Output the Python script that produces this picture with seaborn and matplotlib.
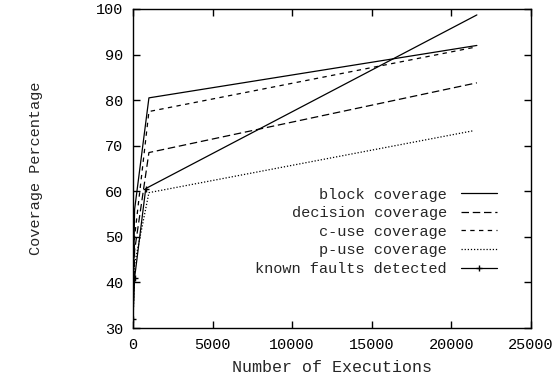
import matplotlib
matplotlib.use("Agg")
import matplotlib.pyplot as plt
import seaborn as sns
import pandas as pd

# ---- data ----
block_x = [1, 100, 1000, 21600]
block_y = [33, 56, 80.5, 92.0]
decision_x = [1, 100, 1000, 21600]
decision_y = [31, 47, 68.5, 83.8]
cuse_x = [1, 100, 1000, 21600]
cuse_y = [32, 50, 77.5, 91.7]
puse_x = [1, 100, 1000, 21400]
puse_y = [30.5, 44, 59.7, 73.3]
faults_x = [1, 100, 800, 21600]
faults_y = [32, 41, 60.6, 98.7]

labels = ["block coverage", "decision coverage", "c-use coverage",
          "p-use coverage", "known faults detected"]
xticks = [0, 5000, 10000, 15000, 20000, 25000]
yticks = [30, 40, 50, 60, 70, 80, 90, 100]

sns.set_theme(style="ticks")
plt.rcParams['font.family'] = ['Liberation Mono', 'DejaVu Sans Mono']

fig = plt.figure(figsize=(5.58, 3.77), dpi=100)
ax = fig.add_axes([133/558, 1-328/377, (531-133)/558, (328-9)/377])

series = [
    (block_x, block_y, dict(linestyle='-')),
    (decision_x, decision_y, dict(linestyle=(0, (6, 3)))),
    (cuse_x, cuse_y, dict(linestyle=(0, (3.5, 3.5)))),
    (puse_x, puse_y, dict(linestyle=(0, (1, 1.5)))),
    (faults_x, faults_y, dict(linestyle='-', marker='+', markersize=5,
                              markeredgewidth=1, markeredgecolor='black',
                              markerfacecolor='black', markevery=[0, 1, 2])),
]
for (xs, ys, st), lab in zip(series, labels):
    df = pd.DataFrame({"x": xs, "y": ys})
    sns.lineplot(data=df, x="x", y="y", ax=ax, color="black", linewidth=0.9,
                 label=lab, sort=False, estimator=None, **st)

ax.set_xlim(0, 25000)
ax.set_ylim(30, 100)
ax.set_xticks(xticks)
ax.set_yticks(yticks)
ax.tick_params(direction='in', length=5, width=1, top=True, right=True,
               labelsize=11, colors='black', pad=7)
for s in ax.spines.values():
    s.set_visible(True)
    s.set_linewidth(1)
    s.set_color('black')

ax.set_xlabel("Number of Executions", fontsize=12, labelpad=6)
ax.set_ylabel("Coverage Percentage", fontsize=11, labelpad=38)

leg = ax.legend(loc='upper right', bbox_to_anchor=(0.915, 0.44), frameon=False,
                markerfirst=False, fontsize=11, handlelength=2.4, handletextpad=0.9,
                labelspacing=0.3, borderpad=0, borderaxespad=0)

fig.savefig("out.png", dpi=100, facecolor='white')
